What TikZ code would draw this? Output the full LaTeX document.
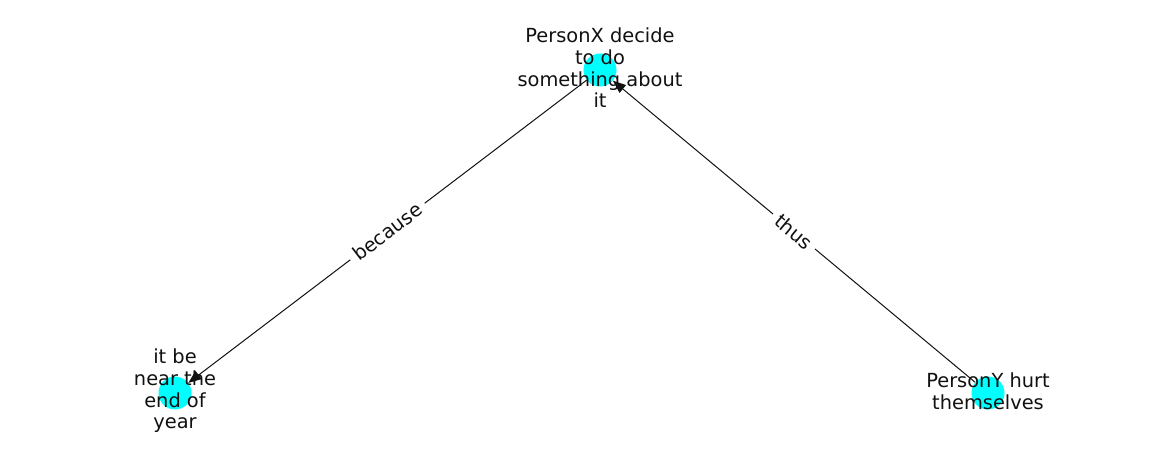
\documentclass[tikz,border=0pt]{standalone}
\usepackage{fontspec}
\setmainfont{DejaVu Sans}
\usetikzlibrary{arrows.meta}
\definecolor{nodecyan}{RGB}{0,255,255}
\definecolor{txt}{RGB}{17,17,17}
\begin{document}
\begin{tikzpicture}[x=1pt,y=-1pt,
  dot/.style={circle,fill=nodecyan,draw=none,minimum size=33pt,inner sep=0pt},
  lbl/.style={align=center,font=\fontsize{19.4}{21.7}\selectfont,text=txt,inner sep=0pt},
  edg/.style={draw=txt,line width=1pt,-{Triangle[length=13pt,width=10pt]}},
  elbl/.style={fill=white,font=\fontsize{19.4}{21.7}\selectfont,text=txt,inner xsep=6pt,inner ysep=3pt,sloped}]
\useasboundingbox (0,0) rectangle (1162,462);
\node[dot] (top) at (600,70) {};
\node[dot] (left) at (175,393) {};
\node[dot] (right) at (988,393) {};
\draw[edg] (top) -- node[elbl] {because} (left);
\draw[edg] (right) -- node[elbl] {thus} (top);
\node[lbl] (ttop) at (600,68) {PersonX decide\\to do\\something about\\it};
\node[lbl] (tleft) at (175,391) {it be\\near the\\end of\\year};
\node[lbl] (tright) at (988,391) {PersonY hurt\\themselves};
\end{tikzpicture}
\end{document}
